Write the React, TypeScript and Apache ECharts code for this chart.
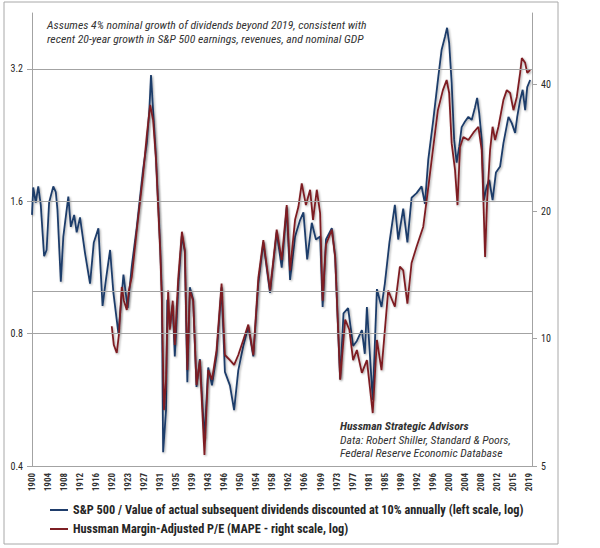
import React, { useEffect, useRef } from "react";
import * as echarts from "echarts";

// ---- tick labels ----
const xTickLabels = ["1900","1904","1908","1912","1916","1920","1923","1927","1931","1935","1939","1943","1946","1950","1954","1958","1962","1966","1969","1973","1977","1981","1985","1989","1992","1996","2000","2004","2008","2012","2015","2019"];
const leftTickLabels = ["0.4", "0.8", "1.6", "3.2"];
const rightTickLabels = ["5", "10", "20", "40"];
const gridValues = [0.8, 1.0, 1.6, 3.2];

// ---- S&P 500 / value of subsequent dividends (left scale) ----
const blueYears = [1900.0,1900.3,1900.9,1901.5,1902.1,1902.9,1903.5,1904.1,1905.1,1905.7,1906.1,1906.9,1907.5,1908.7,1909.3,1910.1,1910.7,1911.5,1912.7,1913.9,1914.8,1915.9,1916.9,1917.7,1918.7,1919.5,1920.7,1921.9,1922.9,1923.9,1925.1,1926.6,1927.5,1928.1,1928.5,1929.0,1929.6,1930.3,1930.7,1931.1,1931.4,1932.1,1932.4,1933.0,1933.7,1934.2,1935.1,1935.9,1936.6,1937.2,1937.8,1938.6,1939.4,1940.2,1941.3,1942.2,1943.1,1944.2,1945.4,1946.2,1947.4,1948.4,1949.4,1950.6,1951.8,1953.0,1954.2,1955.4,1957.0,1958.6,1959.8,1961.0,1961.8,1963.0,1964.2,1965.0,1965.9,1967.0,1968.0,1969.0,1969.6,1970.4,1971.8,1972.6,1973.8,1974.6,1975.7,1976.9,1977.8,1979.0,1979.7,1980.2,1981.6,1982.6,1983.7,1984.5,1985.6,1986.9,1987.7,1988.9,1989.9,1990.9,1992.1,1993.3,1994.1,1994.9,1996.1,1997.3,1998.1,1998.9,1999.4,1999.9,2000.5,2001.1,2001.7,2002.3,2002.9,2003.7,2004.5,2005.3,2006.1,2006.6,2007.1,2007.7,2008.2,2008.9,2009.5,2010.3,2011.1,2012.1,2012.9,2014.1,2014.9,2015.7,2016.2,2016.9,2017.5,2018.1,2018.6,2019.3];
const blueValues = [1.49,1.72,1.59,1.73,1.57,1.20,1.24,1.59,1.73,1.68,1.53,1.05,1.33,1.64,1.40,1.49,1.36,1.47,1.22,1.04,1.29,1.39,0.925,1.06,1.24,0.99,0.80,1.09,0.915,1.14,1.40,1.89,2.17,2.58,3.10,2.58,2.09,1.53,1.26,0.99,0.43,0.536,0.955,0.83,0.93,0.71,1.05,1.34,1.23,0.62,1.02,0.955,0.605,0.70,0.46,0.67,0.61,0.715,1.02,0.655,0.61,0.536,0.66,0.75,0.83,0.71,1.04,1.29,0.99,1.36,1.13,1.55,1.06,1.33,1.45,1.51,1.18,1.43,1.31,1.33,0.92,1.31,1.39,1.20,0.63,0.89,0.915,0.75,0.77,0.815,0.72,0.92,0.565,1.01,0.92,1.04,1.29,1.57,1.31,1.54,1.29,1.63,1.67,1.73,1.58,1.99,2.45,3.07,3.54,3.79,3.97,3.67,2.98,2.21,1.96,2.13,2.36,2.43,2.49,2.45,2.62,2.75,2.54,2.21,1.61,1.73,1.79,1.61,1.86,1.92,2.17,2.49,2.41,2.29,2.49,2.72,2.87,2.58,2.91,3.02];

// ---- Hussman MAPE (right scale) ----
const redYears = [1919.1,1919.6,1920.3,1920.8,1921.5,1922.0,1922.7,1923.2,1923.9,1925.1,1926.6,1927.5,1928.3,1929.0,1929.7,1930.3,1930.7,1931.1,1931.6,1932.1,1932.6,1933.0,1933.7,1934.2,1935.0,1935.9,1936.6,1937.2,1937.8,1938.6,1939.4,1940.2,1941.3,1942.2,1943.1,1944.2,1945.4,1946.2,1947.4,1948.4,1949.4,1950.6,1951.8,1953.0,1954.2,1955.4,1957.0,1958.6,1959.8,1961.0,1961.8,1963.0,1963.8,1964.6,1965.6,1966.6,1967.3,1968.2,1969.0,1969.6,1970.4,1971.8,1972.6,1973.8,1975.0,1976.0,1976.9,1977.8,1979.0,1980.2,1981.6,1982.6,1983.7,1985.3,1986.9,1988.1,1988.9,1989.9,1990.9,1992.1,1993.7,1994.9,1996.0,1997.2,1998.4,1999.3,1999.9,2000.5,2001.3,2001.9,2002.5,2003.3,2004.5,2005.7,2006.9,2007.7,2008.1,2008.5,2009.0,2009.7,2010.3,2010.9,2011.7,2012.9,2013.7,2014.5,2015.3,2016.1,2016.9,2017.3,2018.1,2018.6,2019.3];
const redValues = [10.7,9.66,9.25,10.2,13.25,12.3,11.7,13.0,14.0,18.1,24.4,30.3,35.7,32.9,26.5,19.6,16.2,12.3,6.78,8.0,13.0,10.5,12.3,9.66,13.8,17.9,16.2,8.43,13.0,12.3,7.77,8.9,5.31,8.43,8.0,9.4,13.5,9.15,8.9,8.67,9.15,9.93,10.8,9.15,13.9,17.1,13.0,18.1,15.35,20.7,14.5,19.1,20.5,23.3,20.7,22.5,19.1,22.5,19.8,12.3,16.7,18.1,15.6,8.0,11.1,10.5,8.9,9.4,8.3,8.9,6.67,9.93,8.43,13.0,11.9,14.8,14.5,12.1,15.1,16.5,18.4,22.8,27.9,34.7,38.7,40.9,38.1,29.0,25.1,20.7,28.4,30.0,29.5,30.7,31.7,27.9,21.3,15.6,21.3,27.9,31.7,29.5,31.7,36.7,38.7,38.1,34.7,37.3,42.5,46.1,44.9,42.5,43.2];

const seriesNames = [
  "S&P 500 / Value of actual subsequent dividends discounted at 10% annually (left scale, log)",
  "Hussman Margin-Adjusted P/E (MAPE - right scale, log)",
];

// axis ranges
const X_START = 1900;
const X_END = 2019.74;
const LEFT_BASE = 0.4;
const LEFT_TOP = 4.29;
const RIGHT_BASE = 5;
const RIGHT_TOP = 58.9;

const X_INTERVAL = (Number(xTickLabels[xTickLabels.length - 1]) - X_START) / (xTickLabels.length - 1);
const toLeft = (v: number) => Math.log2(v / LEFT_BASE);
const toRight = (v: number) => Math.log2(v / RIGHT_BASE);

const FONT = "'Liberation Sans Narrow', 'Roboto Condensed', 'DejaVu Sans Condensed', 'Liberation Sans', sans-serif";
const BLUE = "#1f3d6b";
const RED = "#7e1f24";
const GRID = "#a3a3a3";

function tickLabel(labels: string[], step: number) {
  return (v: number) => {
    const k = Math.round(v / step);
    if (Math.abs(v - k * step) > 1e-4 || k < 0 || k >= labels.length) return "";
    return labels[k];
  };
}

export default function App() {
  const ref = useRef<HTMLDivElement>(null);
  useEffect(() => {
    if (!ref.current) return;
    const chart = echarts.init(ref.current, null, { renderer: "svg" });
    const shadow = { shadowColor: "rgba(0,0,0,0.35)", shadowBlur: 2, shadowOffsetX: 1, shadowOffsetY: 1 };
    const leftTicks = leftTickLabels.map((_, i) => i);
    const rightTicks = rightTickLabels.map((_, i) => i);
    chart.setOption({
      animation: false,
      backgroundColor: "#ffffff",
      grid: { left: 32, right: 68, top: 13, bottom: 82 },
      legend: {
        orient: "vertical",
        left: 45,
        top: 499,
        itemWidth: 18,
        itemHeight: 2,
        itemGap: 7,
        icon: "rect",
        data: seriesNames,
        textStyle: { fontSize: 12.3, fontWeight: "bold", color: "#262626", fontFamily: FONT },
      },
      xAxis: {
        type: "value",
        min: 0,
        max: X_END - X_START,
        interval: X_INTERVAL,
        axisLine: { show: true, lineStyle: { color: GRID, width: 1 } },
        axisTick: { show: false },
        splitLine: { show: false },
        axisLabel: {
          rotate: 90,
          margin: 7,
          fontSize: 9,
          fontWeight: "bold",
          color: "#333",
          fontFamily: FONT,
          formatter: tickLabel(xTickLabels, X_INTERVAL),
        },
      },
      yAxis: [
        {
          type: "value",
          position: "left",
          min: 0,
          max: toLeft(LEFT_TOP),
          interval: 1,
          axisLine: { show: true, lineStyle: { color: GRID } },
          axisTick: { show: true, length: 5, customValues: leftTicks, lineStyle: { color: GRID } },
          splitLine: { show: false },
          axisLabel: { margin: 9, fontSize: 10, color: "#262626", fontFamily: FONT, formatter: tickLabel(leftTickLabels, 1) },
        },
        {
          type: "value",
          position: "right",
          min: 0,
          max: toRight(RIGHT_TOP),
          interval: 1,
          axisLine: { show: true, lineStyle: { color: GRID } },
          axisTick: { show: true, length: 5, customValues: rightTicks, lineStyle: { color: GRID } },
          splitLine: { show: false },
          axisLabel: { margin: 9, fontSize: 10, color: "#262626", fontFamily: FONT, formatter: tickLabel(rightTickLabels, 1) },
        },
      ],
      series: [
        {
          name: seriesNames[0],
          type: "line",
          yAxisIndex: 0,
          showSymbol: false,
          color: BLUE,
          lineStyle: { width: 1.8, color: BLUE, ...shadow },
          data: blueYears.map((y, i) => [y - X_START, toLeft(blueValues[i])]),
          markLine: {
            silent: true,
            symbol: "none",
            label: { show: false },
            lineStyle: { color: GRID, width: 1, type: "solid" },
            data: gridValues.map((g) => ({ yAxis: toLeft(g) })),
          },
          z: 2,
        },
        {
          name: seriesNames[1],
          type: "line",
          yAxisIndex: 1,
          showSymbol: false,
          color: RED,
          lineStyle: { width: 1.8, color: RED, ...shadow },
          data: redYears.map((y, i) => [y - X_START, toRight(redValues[i])]),
          z: 3,
        },
      ],
      graphic: [
        { type: "rect", shape: { x: 4, y: 2, width: 554, height: 542 }, style: { fill: "none", stroke: "#a8a8a8", lineWidth: 1 }, silent: true },
        { type: "text", x: 47, y: 25, style: { text: "Assumes 4% nominal growth of dividends beyond 2019, consistent with", font: `italic 11.7px ${FONT}`, fill: "#333", verticalAlign: "middle" } },
        { type: "text", x: 47, y: 39, style: { text: "recent 20-year growth in S&P 500 earnings, revenues, and nominal GDP", font: `italic 11.7px ${FONT}`, fill: "#333", verticalAlign: "middle" } },
        { type: "text", x: 340, y: 426, style: { text: "Hussman Strategic Advisors", font: `italic bold 11.7px ${FONT}`, fill: "#333", verticalAlign: "middle" } },
        { type: "text", x: 340, y: 440, style: { text: "Data: Robert Shiller, Standard & Poors,", font: `italic 11.7px ${FONT}`, fill: "#333", verticalAlign: "middle" } },
        { type: "text", x: 340, y: 453, style: { text: "Federal Reserve Economic Database", font: `italic 11.7px ${FONT}`, fill: "#333", verticalAlign: "middle" } },
      ],
    });
    return () => chart.dispose();
  }, []);
  return <div ref={ref} style={{ position: "absolute", left: 0, top: 0, width: 600, height: 548 }} />;
}
